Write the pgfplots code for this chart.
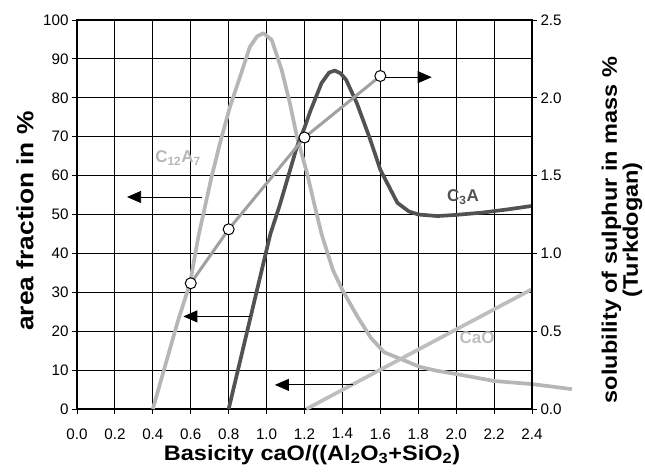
\documentclass[border=0pt]{standalone}
\usepackage{fontspec}
\setmainfont{Liberation Sans}
\newfontfamily\labfont[FakeStretch=1.12]{Liberation Sans}
\usepackage{pgfplots}
\pgfplotsset{compat=1.18}
\usetikzlibrary{arrows.meta}

\definecolor{cAseven}{RGB}{182,182,182}
\definecolor{cCthree}{RGB}{82,82,82}
\definecolor{cCaO}{RGB}{190,190,190}
\definecolor{cTurk}{RGB}{160,160,160}

\pgfplotsset{
  common/.style={
    scale only axis, width=455pt, height=389pt,
    at={(0,0)}, anchor=south west,
    xmin=0, xmax=2.4,
    tick align=outside, major tick length=5pt,
    tick style={black, line width=0.9pt},
    axis line style={black, line width=1.8pt},
    tick label style={font=\fontsize{15.2}{16}\selectfont},
    /pgf/number format/assume math mode=true,
  }
}

\begin{document}
\begin{tikzpicture}
\path[use as bounding box] (-77pt,-65pt) rectangle (568pt,409pt);

% left axis: area fractions of the phases
\begin{axis}[common,
  ymin=0, ymax=100,
  xtick={0,0.2,0.4,0.6,0.8,1.0,1.2,1.4,1.6,1.8,2.0,2.2,2.4},
  ytick={0,10,20,30,40,50,60,70,80,90,100},
  xtick pos=bottom, ytick pos=left,
  xticklabel style={/pgf/number format/fixed, /pgf/number format/fixed zerofill,
    /pgf/number format/precision=1, yshift=-11pt},
  grid=major, major grid style={black, line width=0.9pt},
  clip=false,
]
% C12A7
\addplot[cAseven, line width=3.7pt, line join=round] coordinates {
  (0.40,0) (0.47,12) (0.534,22.9) (0.596,32.3) (0.64,44.3) (0.675,52) (0.71,59.7)
  (0.754,68.3) (0.807,77.7) (0.86,85.4) (0.912,93.1) (0.95,95.8) (0.983,96.6)
  (1.027,94.9) (1.08,87.1) (1.123,78.6) (1.16,70) (1.213,60.7) (1.255,52)
  (1.29,45) (1.35,35.7) (1.40,30.6) (1.48,23.7) (1.55,18.3) (1.62,14.6) (1.70,13)
  (1.81,10.8) (1.90,9.8) (2.00,9.0) (2.10,8.1) (2.20,7.2) (2.30,6.8) (2.40,6.4)
  (2.50,5.8) (2.61,5.1)
};
% C3A
\addplot[cCthree, line width=3.7pt, line join=round] coordinates {
  (0.80,0) (1.02,45) (1.07,52.5) (1.16,67.4) (1.20,72.3) (1.23,76.5) (1.29,83.8)
  (1.33,86.5) (1.36,87) (1.39,86.3) (1.42,84.6) (1.477,78.5) (1.545,69.5)
  (1.60,61.5) (1.69,53) (1.75,50.8) (1.80,50) (1.90,49.6) (2.00,49.9)
  (2.14,50.5) (2.27,51.3) (2.40,52.2)
};
% CaO
\addplot[cCaO, line width=3.7pt] coordinates {(1.21,0) (2.40,30.8)};

\node[text=cAseven, font=\fontsize{17}{18}\selectfont\bfseries] at (axis cs:0.533,64.5) {C\textsubscript{12}A\textsubscript{7}};
\node[text=cCthree, font=\fontsize{17}{18}\selectfont\bfseries] at (axis cs:2.036,54.5) {C\textsubscript{3}A};
\node[text=cCaO, font=\fontsize{17}{18}\selectfont\bfseries] at (axis cs:2.11,18.3) {CaO};

\draw[-{Triangle[length=14pt,width=12pt]}, line width=0.8pt] (axis cs:0.66,54.5) -- (axis cs:0.264,54.5);
\draw[-{Triangle[length=14pt,width=12pt]}, line width=0.8pt] (axis cs:0.912,23.8) -- (axis cs:0.561,23.8);
\draw[-{Triangle[length=14pt,width=12pt]}, line width=0.8pt] (axis cs:1.458,6.2) -- (axis cs:1.044,6.2);
\draw[-{Triangle[length=14pt,width=12pt]}, line width=0.8pt] (axis cs:1.6,85.3) -- (axis cs:1.871,85.3);
\end{axis}

% right axis: sulphur solubility after Turkdogan
\begin{axis}[common,
  ymin=0, ymax=2.5,
  axis x line=none, axis y line*=right,
  ytick={0,0.5,1.0,1.5,2.0,2.5},
  yticklabel style={/pgf/number format/fixed, /pgf/number format/fixed zerofill,
    /pgf/number format/precision=1},
]
\addplot[cTurk, line width=3pt, mark=*, mark size=5.5pt,
  mark options={fill=white, draw=black, line width=1pt}] coordinates {
  (0.6,0.808) (0.8,1.155) (1.2,1.745) (1.6,2.14)
};
\end{axis}

\node[rotate=90, font=\labfont\fontsize{23.5}{26}\selectfont\bfseries] at (-52pt,188pt) {area fraction in \%};
\node[rotate=90, align=center, font=\labfont\fontsize{21}{21}\selectfont\bfseries] at (545pt,179pt) {solubility of sulphur in mass \%\\(Turkdogan)};
\node[font=\labfont\fontsize{21}{24}\selectfont\bfseries] at (235pt,-46pt) {Basicity caO/((Al\textsubscript{2}O\textsubscript{3}+SiO\textsubscript{2})};
\end{tikzpicture}
\end{document}
